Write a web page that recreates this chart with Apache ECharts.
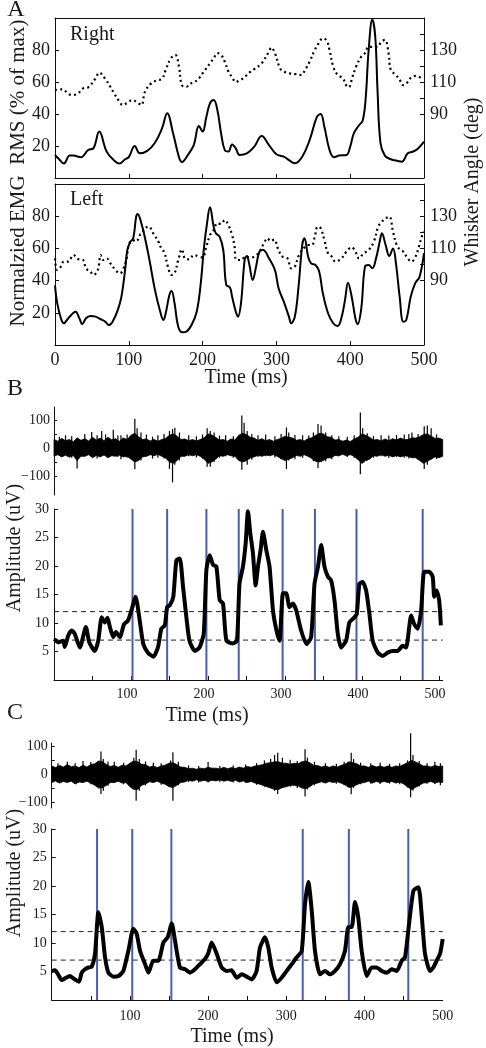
<!DOCTYPE html>
<html>
<head>
<meta charset="utf-8">
<script src="https://cdn.jsdelivr.net/npm/echarts@6/dist/echarts.min.js"></script>
<style>
html,body{margin:0;padding:0;background:#fff;}
#c{width:486px;height:1048px;}
</style>
</head>
<body>
<div id="c"></div>
<script>
// ---------------- DATA ----------------
// Panel A, "Right": normalized EMG RMS (% of max) and whisker angle (deg) vs time (ms)
const rightEmg = [[0,14.4],[5,12],[12,9],[20,14],[25,14],[35,13],[45,17.5],[52,18.5],[60,29],[70,16.5],[80,11],[87,9],[95,11.7],[100,13],[108,20],[115,15.4],[125,17],[135,21.7],[145,31],[152,40.4],[160,28],[168,13],[172,10],[180,14.4],[188,20.6],[195,32.5],[200,29],[205,38],[210,46.7],[215,48.7],[220,42.5],[225,28],[230,17.5],[235,16.5],[240,21],[245,18.5],[250,14.4],[260,15.4],[270,19.6],[280,26.2],[290,20.6],[300,14.8],[310,13.3],[320,10.2],[325,9.2],[335,13.3],[345,23.7],[355,38.3],[360,40],[365,32],[372,17.5],[378,13],[385,14],[395,14.4],[400,19.6],[405,28],[412,33],[417,36],[421,50],[425,80],[430,99],[434,88],[437,55],[441,22],[447,14],[455,11.7],[465,10.6],[470,10.2],[478,15.4],[485,16.5],[492,18.5],[500,22.7]];
const rightAngle = [[0,105],[10,105.4],[15,104],[22,101.9],[30,102.5],[38,106],[45,106.7],[55,112.3],[60,115.8],[68,112],[75,107],[80,103],[87,98],[92,95.6],[97,96.7],[105,98.7],[112,97],[117,95.6],[122,104],[130,109],[138,111],[145,112],[150,117.5],[157,124.8],[163,126.9],[168,119.6],[172,108],[178,107],[183,109],[188,109.6],[195,112.3],[200,115.4],[205,118.5],[210,121.7],[215,124.8],[220,128],[225,127],[230,122.7],[235,116.5],[240,113],[245,110],[250,111],[255,112.3],[260,114.4],[265,116.5],[270,118],[280,121.7],[290,129],[293,131.5],[298,128],[305,118.5],[310,116.5],[318,115.4],[325,115],[333,114.4],[340,118.5],[345,122.7],[352,130],[357,134],[363,137.3],[368,136],[372,130],[377,119.6],[383,114.4],[390,112.3],[395,107.5],[398,106.7],[403,113],[408,119.6],[415,125.8],[420,128],[425,132],[430,132],[437,132],[442,135],[447,136.3],[452,128],[455,117.5],[462,114.4],[467,111.3],[472,108],[478,110],[483,113],[490,113.8],[495,113],[500,114.4]];
// Panel A, "Left"
const leftEmg = [[0,37],[3,26],[8,16.6],[12,13.5],[18,16.6],[25,20],[28,20.7],[33,16.6],[37,13],[42,16.6],[48,18],[55,17.6],[62,16],[68,14.5],[73,12.4],[78,14.5],[85,21.7],[90,30],[95,46.6],[98,59],[102,64],[106,66.3],[110,79.7],[112,81.4],[117,75.6],[122,66.3],[128,52.8],[135,35.2],[142,21.7],[147,15.5],[150,19.7],[155,31],[158,33.5],[162,25.9],[167,11.4],[173,7.9],[178,8.3],[185,12.4],[192,20.7],[197,36.2],[202,61],[206,75.6],[210,85.5],[215,73.5],[218,69.4],[223,67.3],[228,59],[232,37.3],[237,35.8],[240,30],[245,20.7],[248,17.6],[252,25.9],[257,52.8],[260,55.3],[263,50.7],[268,40.4],[272,47.6],[277,58],[282,59],[290,53.8],[298,46.6],[303,35.2],[310,26.9],[317,17.6],[320,13.5],[325,17.6],[330,36.2],[335,62.1],[338,66.3],[343,54.9],[347,50.7],[353,49.7],[358,45.5],[363,32],[370,19.7],[377,13.5],[383,11.8],[388,16.6],[393,28],[397,38.7],[402,30],[407,16.6],[410,13],[415,22.8],[420,48.7],[425,49.7],[430,47.6],[435,53.8],[440,64.2],[443,69.4],[448,62.1],[453,55.3],[458,60],[462,50.7],[467,30],[472,14.5],[476,15.5],[482,30],[488,38.3],[494,42.4],[500,57]];
const leftAngle = [[0,103.8],[3,96.6],[8,98.7],[12,101.8],[18,101.8],[25,105.9],[32,103.2],[38,102.8],[42,97.6],[48,95.5],[52,93.5],[58,96.6],[62,105.9],[65,102.8],[70,103.8],[75,100.7],[82,96.6],[88,94.5],[92,96.6],[97,103.8],[100,112.1],[105,115.2],[110,114.3],[115,118.3],[118,119.4],[122,122.5],[127,123.5],[133,119.4],[140,114.3],[145,109],[148,108],[153,98.7],[158,93.5],[162,94.5],[167,102.8],[172,109.4],[176,103.8],[182,103.2],[188,105.9],[195,104.9],[200,104.4],[205,111],[210,118.3],[215,121.4],[220,125.6],[225,125.2],[230,127.6],[235,124.5],[240,118.3],[243,112],[246,102.8],[252,102.8],[258,104.9],[265,104.4],[270,104.9],[277,108],[283,113.1],[288,116.3],[292,114.5],[297,115.5],[302,110],[308,104.9],[315,103.8],[320,97.6],[325,98.7],[330,105.3],[337,110],[343,112.1],[348,112.1],[352,117.3],[356,123.5],[360,122.5],[365,115.2],[370,106.9],[375,104.9],[380,101.8],[388,103.8],[395,108],[402,110.7],[407,108],[412,103.8],[418,106.9],[425,109],[432,114.2],[438,123.5],[443,126.6],[448,128.7],[453,129.7],[458,120.4],[463,112.1],[468,109],[472,108],[478,103.8],[483,101.8],[488,104.4],[493,111],[497,117.3],[500,120.4]];
const ticksA = [100, 200, 300, 400];
const labelsA = [0, 100, 200, 300, 400, 500];
const emgTicks = [20, 40, 60, 80];
const angleTicks = [90, 100, 110, 120, 130, 140];
const angleLabels = [90, 110, 130];

// Panel B: raw EMG envelope (uV) on a 5 ms grid starting at 5 ms, plus discrete spikes [t, top, bottom]
const rawBStart = 5, rawBStep = 5;
const rawBHi = [30,24,34,26,30,22,36,27,33,25,38,28,35,26,38,29,33,24,35,30,45,52,40,30,32,25,30,24,30,34,45,50,42,30,32,26,30,25,30,36,50,46,38,28,30,24,32,28,45,52,48,38,35,27,33,26,30,24,30,34,42,38,35,27,30,25,33,36,45,52,50,40,38,28,30,24,28,23,32,38,50,45,38,28,30,25,32,26,33,28,35,30,30,36,35,40,48,50,42,34,35,30];
const rawBLo = [-30,-24,-32,-26,-33,-27,-45,-30,-30,-24,-35,-27,-32,-25,-35,-28,-30,-26,-32,-30,-40,-50,-45,-32,-30,-24,-28,-23,-30,-36,-50,-55,-45,-30,-30,-24,-28,-24,-30,-40,-55,-50,-40,-28,-30,-24,-28,-30,-45,-50,-45,-36,-32,-26,-30,-25,-28,-24,-30,-38,-45,-40,-35,-27,-30,-24,-30,-38,-48,-50,-45,-36,-35,-27,-28,-23,-28,-24,-30,-42,-55,-45,-40,-28,-30,-24,-30,-26,-32,-27,-32,-28,-30,-35,-35,-45,-55,-48,-40,-32,-35,-30];
const spikesB = [[12,40,-28],[20,45,-25],[28,42,-35],[35,20,-73],[45,50,-30],[54,57,-20],[61,45,-38],[67,60,-20],[72,48,-25],[82,65,-20],[88,44,-32],[92,45,-40],[100,48,-35],[110,104,-76],[113,70,-40],[118,55,-45],[125,48,-30],[133,40,-38],[140,45,-35],[148,50,-38],[155,60,-75],[159,67,-123],[162,72,-60],[168,55,-45],[180,45,-30],[190,42,-34],[198,48,-38],[204,70,-67],[208,60,-67],[213,55,-50],[220,44,-35],[228,45,-30],[238,42,-35],[249,116,-78],[252,90,-50],[256,60,-60],[262,50,-42],[270,45,-32],[280,48,-30],[292,42,-34],[300,50,-40],[307,73,-75],[310,55,-45],[318,46,-40],[328,45,-35],[336,44,-32],[342,55,-48],[348,85,-72],[352,80,-50],[358,55,-48],[366,45,-40],[375,42,-30],[386,40,-32],[395,45,-36],[403,126,-94],[406,70,-55],[412,52,-45],[420,42,-35],[430,45,-30],[440,44,-36],[450,46,-32],[460,48,-35],[466,50,-38],[470,55,-35],[478,50,-42],[486,77,-75],[490,80,-60],[495,70,-40],[502,48,-40]];
// Panel B: amplitude (uV) vs time (ms)
const ampB = [[5.4,7.2],[10.5,6.6],[17,6.9],[19,5.8],[23.5,7.8],[28,8.7],[32,8.1],[38.6,5.7],[46.4,9.3],[50.8,6.6],[58,5.1],[62.5,6.9],[67,11],[71,10.1],[74.5,10.9],[77.6,9.3],[82,7.5],[85.4,8.4],[90.5,7.5],[96,9.8],[101,10.4],[105.6,12.2],[111,14.6],[116.4,10.4],[121,6.3],[127,4.8],[134,4.1],[140,5.7],[144.5,9],[149,9.6],[152,12.8],[155.5,13.1],[160,14.6],[164,21],[168.4,21.3],[172.7,16.3],[177,11],[181,6.9],[188,5.1],[194,5.7],[199.5,8.1],[203,19.3],[207.3,21.9],[211.6,20.2],[216,19.9],[220.3,14],[224.6,13.4],[229,6.9],[237.5,6.4],[242.7,6.9],[246,16.9],[250.5,19.9],[254,24],[257,29.6],[260,25.8],[263.5,22.2],[267,16.6],[270,19.9],[273.4,22.8],[276.5,26],[280.8,22.8],[285,19.9],[289.5,12.2],[294,8.7],[298,6.9],[302.5,15.2],[306.7,15.2],[311,12.8],[315.3,13.4],[319.7,12.2],[326,8.7],[333,6.3],[339,7.5],[343.5,16.9],[348,19.9],[352.1,23.7],[356.4,19.9],[361,18.1],[365,17.5],[369.4,14],[373.7,8.1],[378,5.7],[384.5,6.9],[388.8,10.1],[395.3,11],[398.4,11.6],[401.8,16.9],[406,17.2],[410.5,15.7],[414.8,11.6],[419,6.9],[425.6,4.8],[432,4.2],[438.5,4.8],[445,5.1],[451.5,5.1],[458,6],[462.4,5.7],[469,11.3],[473,9.8],[477.5,9],[482,12.2],[486,19],[492.5,19],[497,18.1],[499,14.6],[502,15.7],[505.4,14],[507.6,9.6]];
const onsetsB = [107, 152, 203, 245, 302, 344, 398, 484];
const thresholds = [7, 12];
const ticksB = [55, 105, 155, 205, 255, 305, 355, 405, 455, 505];
const labelsB = [100, 200, 300, 400, 500];

// Panel C
const rawCStart = 0, rawCStep = 5;
const rawCHi = [30,24,32,26,35,27,30,24,33,26,35,38,48,45,35,28,32,25,33,30,40,48,45,36,35,26,30,24,30,33,40,42,35,26,25,20,22,18,22,20,25,22,22,19,25,20,24,21,26,22,28,25,30,32,35,40,42,45,45,40,40,36,40,38,45,48,42,32,32,26,30,25,30,26,32,36,45,42,38,30,30,25,32,26,30,25,30,25,30,28,35,42,50,45,38,30,30,26,32,28,30];
const rawCLo = [-30,-24,-32,-26,-30,-25,-35,-28,-30,-25,-32,-40,-50,-48,-40,-30,-30,-25,-32,-30,-45,-55,-55,-40,-35,-27,-30,-25,-32,-36,-45,-48,-40,-30,-28,-22,-25,-20,-25,-22,-26,-22,-24,-20,-25,-22,-26,-22,-28,-24,-30,-26,-32,-35,-40,-45,-50,-55,-55,-48,-45,-40,-40,-42,-50,-52,-45,-35,-32,-27,-32,-26,-30,-27,-32,-38,-48,-45,-38,-32,-30,-25,-32,-26,-30,-26,-30,-26,-32,-28,-35,-45,-55,-48,-40,-32,-30,-26,-32,-28,-30];
const spikesC = [[8,40,-30],[20,45,-25],[30,40,-35],[40,48,-30],[50,44,-36],[63,82,-71],[66,55,-60],[72,46,-42],[80,45,-30],[92,42,-36],[105,60,-50],[108,89,-96],[112,55,-60],[120,46,-40],[130,42,-30],[140,40,-38],[152,50,-45],[155,80,-96],[162,45,-40],[175,32,-28],[188,30,-30],[200,44,-30],[215,30,-28],[232,32,-30],[248,35,-32],[262,40,-38],[272,50,-45],[280,55,-40],[285,70,-60],[289,78,-71],[295,60,-50],[305,52,-45],[314,48,-50],[324,90,-80],[327,60,-55],[336,45,-40],[350,40,-30],[364,38,-34],[374,45,-40],[383,78,-72],[386,55,-50],[395,42,-36],[408,40,-34],[420,42,-35],[432,38,-34],[445,40,-36],[455,50,-48],[459,148,-83],[462,70,-60],[470,48,-44],[480,40,-34],[490,45,-35],[497,40,-40]];
const ampC = [[0,5.1],[4.3,5.2],[8.5,4.4],[12.8,3.5],[17,3.8],[23.4,4.2],[27.7,3.8],[32,3.4],[35,3.2],[38.4,4.8],[42.6,5.4],[46.9,5.7],[51,5.8],[55.4,8.1],[59.7,15.4],[64,12.8],[68.2,7.5],[72.5,4.8],[78.9,4.1],[85.3,4.2],[91.6,5.1],[98,8.6],[104.4,12.5],[108.7,11.6],[113,8.6],[119.4,6.3],[123.6,4.8],[130,6.9],[136.4,6.9],[142.8,10.1],[148.3,11],[153.5,13.4],[157.7,10.4],[164,5.7],[170.5,5.4],[177,4.8],[183.3,5.4],[189.7,6.3],[196,7.2],[200,8.1],[204.6,10.1],[211,8.1],[217.4,5.7],[223.8,5.1],[230,5.2],[236.6,3.9],[243,4.5],[249.4,4.1],[255.8,3.6],[262,5.1],[266.4,9.2],[272.8,11],[277,9.2],[281.3,5.7],[287.7,3.1],[294,3.9],[300.5,5.1],[307,6.3],[313.3,7.5],[319.7,8.6],[324,16.9],[328.2,20.7],[332.5,15.7],[336.7,8.6],[343,4.5],[349.5,5.1],[355.9,4.5],[362.3,5.1],[368.7,6.3],[375,8.6],[379.4,12.8],[383.6,12.8],[387.9,17.2],[392,14.5],[396.4,8.6],[402.8,4.2],[409.2,5.7],[415.6,5.7],[422,5.1],[428.4,4.8],[434.8,5.4],[441.2,5.1],[447.6,6.9],[451.8,7.5],[456,12.2],[462.6,19.2],[469,19.8],[473,15.1],[477.4,8.1],[483.8,5.1],[488,5.7],[492.3,6.9],[496.6,8.1],[500,10.7]];
const onsetsC = [58, 103, 153, 321, 380, 456];
const ticksC = [50, 100, 150, 200, 250, 300, 350, 400, 450];
const labelsC = [100, 200, 300, 400, 500];

const rawTicks = [-100, -50, 0, 50, 100];
const rawLabels = [-100, 0, 100];
const ampTicks = [5, 10, 15, 20, 25, 30];

// ---------------- CHART ----------------
const SERIF = "'Liberation Serif', 'DejaVu Serif', serif";
const INK = '#111';
const TXT = '#1a1a1a';
const BLUE = '#4a5db0';
const AL = {show: true, onZero: false, lineStyle: {color: INK, width: 1}};
const tick = (vals, len) => ({show: true, inside: true, length: len || 4, customValues: vals, lineStyle: {color: INK, width: 1}});
const lab = (vals, size, margin, fmt) => {
  const o = {show: true, customValues: vals, fontFamily: SERIF, fontSize: size, color: TXT, margin: margin};
  if (fmt) o.formatter = fmt;
  return o;
};
const noLab = {show: false};
const noSplit = {show: false};
const minusFmt = v => (v < 0 ? '\u2212' + Math.abs(v) : String(v));

const grids = [
  {left: 55, top: 18, width: 369, height: 160},
  {left: 55, top: 184, width: 369, height: 161},
  {left: 54, top: 407, width: 388.7, height: 88},
  {left: 54, top: 509, width: 388.7, height: 171},
  {left: 51.7, top: 743, width: 391, height: 65},
  {left: 51.7, top: 829, width: 391, height: 171}
].map(g => Object.assign({outerBoundsMode: 'none', containLabel: false}, g));

const xAxis = [
  {gridIndex: 0, type: 'value', min: 0, max: 500, position: 'bottom', axisLine: AL, axisTick: tick(ticksA), axisLabel: noLab, splitLine: noSplit},
  {gridIndex: 0, type: 'value', min: 0, max: 500, position: 'top', axisLine: AL, axisTick: {show: false}, axisLabel: noLab, splitLine: noSplit},
  {gridIndex: 1, type: 'value', min: 0, max: 500, position: 'bottom', axisLine: AL, axisTick: tick(ticksA), axisLabel: lab(labelsA, 18, 6), splitLine: noSplit},
  {gridIndex: 1, type: 'value', min: 0, max: 500, position: 'top', axisLine: AL, axisTick: {show: false}, axisLabel: noLab, splitLine: noSplit},
  {gridIndex: 2, type: 'value', min: 5, max: 510, show: false},
  {gridIndex: 3, type: 'value', min: 5, max: 510, position: 'bottom', axisLine: AL, axisTick: tick(ticksB), axisLabel: lab(labelsB, 14, 7), splitLine: noSplit},
  {gridIndex: 4, type: 'value', min: 0, max: 500, show: false},
  {gridIndex: 5, type: 'value', min: 0, max: 500, position: 'bottom', axisLine: AL, axisTick: tick(ticksC), axisLabel: lab(labelsC, 14, 9), splitLine: noSplit}
];
const yAxis = [
  {gridIndex: 0, type: 'value', min: 0, max: 100, position: 'left', axisLine: AL, axisTick: tick(emgTicks), axisLabel: lab(emgTicks, 18, 5), splitLine: noSplit},
  {gridIndex: 0, type: 'value', min: 50, max: 150, position: 'right', axisLine: AL, axisTick: tick(angleTicks), axisLabel: lab(angleLabels, 18, 6), splitLine: noSplit},
  {gridIndex: 1, type: 'value', min: 0, max: 100, position: 'left', axisLine: AL, axisTick: tick(emgTicks), axisLabel: lab(emgTicks, 18, 5), splitLine: noSplit},
  {gridIndex: 1, type: 'value', min: 50, max: 150, position: 'right', axisLine: AL, axisTick: tick(angleTicks), axisLabel: lab(angleLabels, 18, 6), splitLine: noSplit},
  {gridIndex: 2, type: 'value', min: -168, max: 146, position: 'left', axisLine: AL, axisTick: tick(rawTicks, 3), axisLabel: lab(rawLabels, 14, 4, minusFmt), splitLine: noSplit},
  {gridIndex: 3, type: 'value', min: 0, max: 30, position: 'left', axisLine: AL, axisTick: tick(ampTicks), axisLabel: lab(ampTicks, 14, 5), splitLine: noSplit},
  {gridIndex: 4, type: 'value', min: -122, max: 113, position: 'left', axisLine: AL, axisTick: tick(rawTicks, 3), axisLabel: lab(rawLabels, 14, 4, minusFmt), splitLine: noSplit},
  {gridIndex: 5, type: 'value', min: 0, max: 30, position: 'left', axisLine: AL, axisTick: tick(ampTicks), axisLabel: lab(ampTicks, 14, 5), splitLine: noSplit}
];

const solid = (xi, yi, data, w, smooth) => ({
  type: 'line', xAxisIndex: xi, yAxisIndex: yi, data: data, symbol: 'none', smooth: smooth,
  lineStyle: {color: '#000', width: w}, silent: true, z: 4
});
const dotted = (xi, yi, data) => ({
  type: 'line', xAxisIndex: xi, yAxisIndex: yi, data: data, symbol: 'none', smooth: 0.4,
  lineStyle: {color: '#000', width: 2.2, type: [2, 3.2]}, silent: true, z: 3
});
// Raw band: one filled polygon running along the upper envelope and back along the lower one
const band = (xi, yi, start, step, hi, lo) => ({
  type: 'custom', xAxisIndex: xi, yAxisIndex: yi, silent: true, z: 2,
  data: [[start, hi[0], lo[0]]], encode: {x: 0, y: [1, 2]},
  renderItem: (params, api) => {
    const pts = [];
    for (let i = 0; i < hi.length; i++) pts.push(api.coord([start + i * step, hi[i]]));
    for (let i = lo.length - 1; i >= 0; i--) pts.push(api.coord([start + i * step, lo[i]]));
    return {type: 'polygon', shape: {points: pts}, style: {fill: '#000', stroke: '#000', lineWidth: 0.8, lineJoin: 'miter'}};
  }
});
const spikes = (xi, yi, data) => ({
  type: 'custom', xAxisIndex: xi, yAxisIndex: yi, data: data, silent: true, clip: false,
  encode: {x: 0, y: [1, 2]}, z: 3,
  renderItem: (params, api) => {
    const a = api.coord([api.value(0), api.value(1)]);
    const b = api.coord([api.value(0), api.value(2)]);
    return {type: 'line', shape: {x1: a[0], y1: a[1], x2: b[0], y2: b[1]}, style: {stroke: '#000', lineWidth: 1.2}};
  }
});
const vlines = (xi, yi, data) => ({
  type: 'custom', xAxisIndex: xi, yAxisIndex: yi, data: data.map(t => [t]), silent: true,
  encode: {x: 0}, z: 2,
  renderItem: (params, api) => {
    const cs = params.coordSys;
    const x = api.coord([api.value(0), 0])[0];
    return {type: 'line', shape: {x1: x, y1: cs.y, x2: x, y2: cs.y + cs.height}, style: {stroke: BLUE, lineWidth: 2}};
  }
});
const hlines = (xi, yi, xmin, data) => ({
  type: 'custom', xAxisIndex: xi, yAxisIndex: yi, data: data.map(v => [xmin, v]), silent: true,
  encode: {x: 0, y: 1}, z: 2,
  renderItem: (params, api) => {
    const cs = params.coordSys;
    const y = api.coord([api.value(0), api.value(1)])[1];
    return {type: 'line', shape: {x1: cs.x, y1: y, x2: cs.x + cs.width, y2: y}, style: {stroke: '#222', lineWidth: 1, lineDash: [5, 4]}};
  }
});

const series = [
  solid(0, 0, rightEmg, 2, 0.4),
  dotted(0, 1, rightAngle),
  solid(2, 2, leftEmg, 2, 0.4),
  dotted(2, 3, leftAngle),
  band(4, 4, rawBStart, rawBStep, rawBHi, rawBLo),
  spikes(4, 4, spikesB),
  hlines(5, 5, 5, thresholds),
  vlines(5, 5, onsetsB),
  solid(5, 5, ampB, 4, 0.2),
  band(6, 6, rawCStart, rawCStep, rawCHi, rawCLo),
  spikes(6, 6, spikesC),
  hlines(7, 7, 0, thresholds),
  vlines(7, 7, onsetsC),
  solid(7, 7, ampC, 4, 0.2)
];

const txt = (text, x, y, size, opts) => Object.assign({
  type: 'text', x: x, y: y, silent: true,
  style: Object.assign({text: text, fontFamily: SERIF, fontSize: size, fill: TXT, textAlign: 'center', textVerticalAlign: 'middle'}, (opts && opts.style) || {})
}, opts && opts.rotation ? {rotation: opts.rotation} : {});

const graphic = [
  txt('A', 16, 10, 24),
  txt('B', 15, 389, 24),
  txt('C', 15, 713, 24),
  txt('Right', 70, 35, 20, {style: {textAlign: 'left'}}),
  txt('Left', 70, 200, 20, {style: {textAlign: 'left'}}),
  txt('Time (ms)', 246, 378, 20),
  txt('Time (ms)', 207, 716, 20),
  txt('Time (ms)', 232, 1037, 20),
  txt('Normalzied EMG  RMS (% of max)', 18, 173, 21, {rotation: Math.PI / 2}),
  txt('Whisker Angle (deg)', 473, 182, 20, {rotation: Math.PI / 2}),
  txt('Amplitude (uV)', 15, 548, 20, {rotation: Math.PI / 2}),
  txt('Amplitude (uV)', 15, 873, 20, {rotation: Math.PI / 2})
];

const chart = echarts.init(document.getElementById('c'), null, {renderer: 'canvas'});
chart.setOption({
  animation: false,
  backgroundColor: '#fff',
  grid: grids,
  xAxis: xAxis,
  yAxis: yAxis,
  series: series,
  graphic: graphic
});
</script>
</body>
</html>
